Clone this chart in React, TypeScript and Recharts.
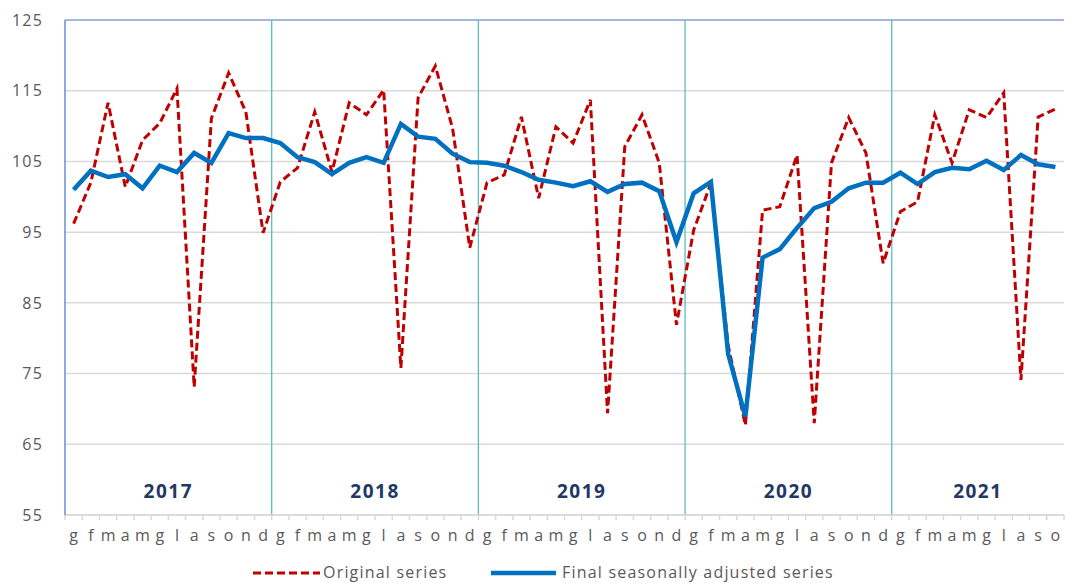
import {
  LineChart,
  Line,
  XAxis,
  YAxis,
  CartesianGrid,
  ReferenceLine,
  ReferenceArea,
} from "recharts";

const MONTHS = ["g", "f", "m", "a", "m", "g", "l", "a", "s", "o", "n", "d"];
const YEARS = ["2017", "2018", "2019", "2020", "2021"];
const Y_TICKS = [55, 65, 75, 85, 95, 105, 115, 125];

// serie grezza, gen 2017 - ott 2021
const ORIGINAL = [
  96.2, 102.0, 113.3, 101.4, 108.0, 110.4, 115.3, 73.1, 111.1, 117.5, 112.0, 94.9,
  102.1, 104.1, 112.0, 103.5, 113.3, 111.6, 115.1, 75.8, 114.0, 118.5, 109.7, 92.8,
  102.0, 103.1, 111.3, 99.8, 109.9, 107.6, 113.7, 69.4, 107.1, 111.6, 104.8, 81.9,
  95.3, 101.9, 79.0, 67.7, 98.1, 98.6, 105.9, 68.0, 104.8, 111.2, 106.2, 90.6,
  97.9, 99.3, 111.6, 104.8, 112.3, 111.2, 114.7, 74.1, 111.3, 112.4,
];

// serie destagionalizzata
const ADJUSTED = [
  101.0, 103.7, 102.8, 103.2, 101.2, 104.4, 103.5, 106.2, 104.8, 109.0, 108.3, 108.3,
  107.6, 105.6, 104.9, 103.2, 104.8, 105.6, 104.8, 110.3, 108.5, 108.2, 106.1, 104.9,
  104.8, 104.4, 103.5, 102.4, 102.0, 101.5, 102.2, 100.7, 101.8, 102.0, 100.8, 93.6,
  100.5, 102.1, 77.8, 68.9, 91.4, 92.6, 95.6, 98.4, 99.3, 101.2, 102.0, 102.0,
  103.4, 101.8, 103.5, 104.1, 103.9, 105.1, 103.8, 105.9, 104.6, 104.2,
];

const N = ORIGINAL.length;
const data = ORIGINAL.map((v, i) => ({ x: i + 0.5, original: v, adjusted: ADJUSTED[i] }));
const boundaries = Array.from({ length: N + 1 }, (_, i) => i);

// body margin is removed below, so these are page coordinates
const CHART_W = 1065;
const CHART_H = 555;
const Y_AXIS_W = 65;
const PLOT_W = CHART_W - Y_AXIS_W - 1;
const HALF_STEP = PLOT_W / N / 2;

const FONT = "'Open Sans', sans-serif";
const GREY = "#595959";

function MonthTick(props: any) {
  const { x, y, payload } = props;
  const i = payload.value;
  if (i >= N) return null;
  return (
    <text
      x={x + HALF_STEP}
      y={y}
      dy={19}
      textAnchor="middle"
      fill={GREY}
      fontSize={16}
      fontFamily={FONT}
    >
      {MONTHS[i % 12]}
    </text>
  );
}

export default function App() {
  return (
    <div style={{ position: "relative", width: CHART_W, height: 583, fontFamily: FONT }}>
      <style>{"body { margin: 0; }"}</style>
      <LineChart
        width={CHART_W}
        height={CHART_H}
        data={data}
        margin={{ top: 20, right: 1, left: 0, bottom: 0 }}
      >
        <CartesianGrid vertical={false} stroke="#D9D9D9" strokeWidth={1.5} />
        <XAxis
          dataKey="x"
          type="number"
          domain={[0, N]}
          ticks={boundaries}
          interval={0}
          height={40}
          axisLine={{ stroke: "#D9D9D9", strokeWidth: 1.5 }}
          tickLine={{ stroke: "#D9D9D9", strokeWidth: 1.5 }}
          tickSize={5}
          tick={<MonthTick />}
        />
        <YAxis
          domain={[55, 125]}
          ticks={Y_TICKS}
          interval={0}
          width={Y_AXIS_W}
          axisLine={{ stroke: "#4472C4", strokeWidth: 1.2 }}
          tickLine={false}
          tickMargin={16}
          tick={{ fill: GREY, fontSize: 16, fontFamily: FONT, letterSpacing: 1.2 }}
        />
        <ReferenceLine y={125} stroke="#8FAADC" strokeWidth={1.5} />
        {YEARS.map((year, i) => (
          <ReferenceArea
            key={year}
            x1={i * 12}
            x2={Math.min((i + 1) * 12, N)}
            fill="none"
            fillOpacity={0}
            stroke="none"
            label={{
              value: year,
              position: "insideBottom",
              offset: 17,
              fill: "#1F3864",
              fontSize: 19,
              fontWeight: 700,
              fontFamily: FONT,
              letterSpacing: 1.5,
            }}
          />
        ))}
        {YEARS.slice(1).map((year, i) => (
          <ReferenceLine key={year} x={(i + 1) * 12} stroke="#5BBDBD" strokeWidth={1.3} />
        ))}
        <Line
          dataKey="original"
          stroke="#C00000"
          strokeWidth={3}
          strokeDasharray="8 4"
          dot={false}
          activeDot={false}
          isAnimationActive={false}
        />
        <Line
          dataKey="adjusted"
          stroke="#0070C0"
          strokeWidth={4.5}
          dot={false}
          activeDot={false}
          isAnimationActive={false}
        />
      </LineChart>
      <svg style={{ position: "absolute", left: 253, top: 563 }} width={70} height={20}>
        <line x1={0} y1={10} x2={67} y2={10} stroke="#C00000" strokeWidth={3} strokeDasharray="8 4" />
      </svg>
      <span
        style={{
          position: "absolute",
          left: 323,
          top: 563,
          fontSize: 16,
          color: GREY,
          letterSpacing: 1.2,
          lineHeight: "18px",
        }}
      >
        Original series
      </span>
      <svg style={{ position: "absolute", left: 491, top: 563 }} width={70} height={20}>
        <line x1={0} y1={10} x2={65} y2={10} stroke="#0070C0" strokeWidth={4.5} />
      </svg>
      <span
        style={{
          position: "absolute",
          left: 562,
          top: 563,
          fontSize: 16,
          color: GREY,
          letterSpacing: 1.2,
          lineHeight: "18px",
        }}
      >
        Final seasonally adjusted series
      </span>
    </div>
  );
}
